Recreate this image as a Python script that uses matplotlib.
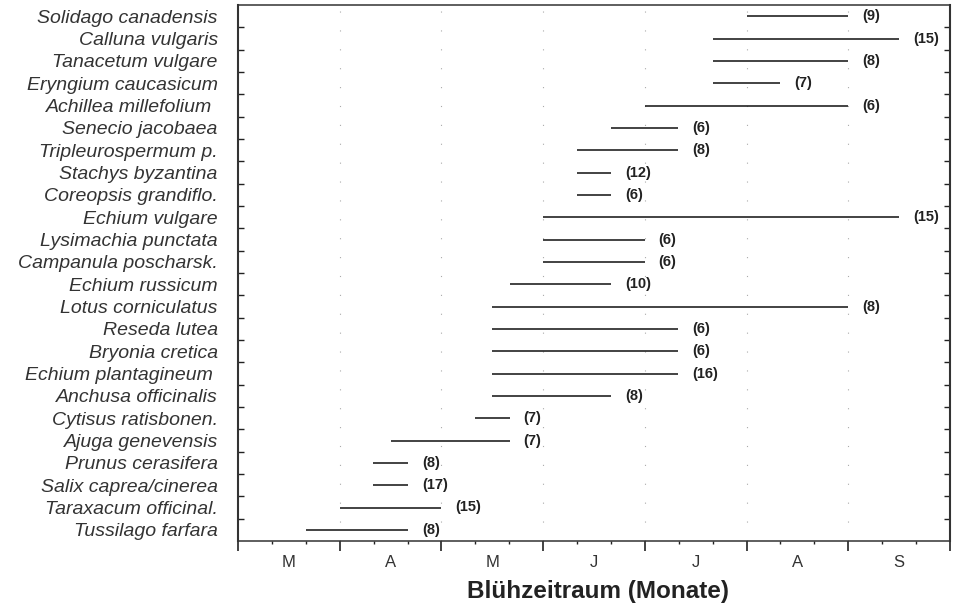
import numpy as np
import matplotlib
matplotlib.use("Agg")
import matplotlib.pyplot as plt
from matplotlib import font_manager

# species, flowering start/end in months (3 = 1st March), number of records
species = ["Solidago canadensis", "Calluna vulgaris", "Tanacetum vulgare",
           "Eryngium caucasicum", "Achillea millefolium ", "Senecio jacobaea",
           "Tripleurospermum p.", "Stachys byzantina", "Coreopsis grandiflo.",
           "Echium vulgare", "Lysimachia punctata", "Campanula poscharsk.",
           "Echium russicum", "Lotus corniculatus", "Reseda lutea",
           "Bryonia cretica", "Echium plantagineum ", "Anchusa officinalis",
           "Cytisus ratisbonen.", "Ajuga genevensis", "Prunus cerasifera",
           "Salix caprea/cinerea", "Taraxacum officinal.", "Tussilago farfara"]
start = [8.0, 7.67, 7.67, 7.67, 7.0, 6.67, 6.33, 6.33, 6.33, 6.0, 6.0, 6.0,
         5.67, 5.5, 5.5, 5.5, 5.5, 5.5, 5.33, 4.5, 4.33, 4.33, 4.0, 3.67]
end = [9.0, 9.5, 9.0, 8.33, 9.0, 7.33, 7.33, 6.67, 6.67, 9.5, 7.0, 7.0,
       6.67, 9.0, 7.33, 7.33, 7.33, 6.67, 5.67, 5.67, 4.67, 4.67, 5.0, 4.67]
counts = [9, 15, 8, 7, 6, 6, 8, 12, 6, 15, 6, 6, 10, 8, 6, 6, 16, 8, 7, 7,
          8, 17, 15, 8]

months = ["M", "A", "M", "J", "J", "A", "S"]
month_edges = np.arange(3, 11)

names = {f.name for f in font_manager.fontManager.ttflist}
count_font = "Liberation Sans Narrow" if "Liberation Sans Narrow" in names else "Liberation Sans"

plt.rcParams['font.family'] = ['Liberation Sans', 'DejaVu Sans']

fig = plt.figure(figsize=(9.56, 6.04), dpi=100)
ax = fig.add_axes([238 / 956, 1 - 541 / 604, 712 / 956, 536 / 604])

ink = '#222222'
rows = np.arange(len(species))

# faint dotted month grid
for m in month_edges[1:-1]:
    ax.axvline(m, color='#aaaaaa', lw=0.8, linestyle=(0, (1, 16)), zorder=0)

# flowering periods
ax.hlines(rows, start, end, color=ink, lw=1.2)

# number of records
for r, e, c in zip(rows, end, counts):
    ax.annotate(f"({c})", (e, r), xytext=(10, 0), textcoords='offset points',
                ha='left', va='center', fontsize=10.5, family=count_font,
                fontweight='bold', color=ink)

ax.set_xlim(3, 10)
ax.set_ylim(len(species) - 0.5, -0.5)

# y axis: names at rows, small inward ticks between rows
ax.set_yticks(rows, labels=species)
ax.set_yticks(rows[:-1] + 0.5, minor=True)
ax.tick_params(axis='y', which='major', length=0, pad=14.5, labelsize=14,
               labelcolor='#333333')
ax.tick_params(axis='y', which='minor', direction='in', length=4.5, width=1.0,
               left=True, right=True, color=ink)
for lbl in ax.get_yticklabels():
    lbl.set_style('italic')

# x axis: month boundaries + thirds of month
ax.set_xticks(month_edges, labels=[])
ax.set_xticks([m + k / 3 for m in month_edges[:-1] for k in (1, 2)], minor=True)
ax.tick_params(axis='x', which='major', direction='out', length=7, width=1.2, color=ink)
ax.tick_params(axis='x', which='minor', direction='out', length=2.5, width=1.0, color=ink)

for i, name in enumerate(months):
    ax.text(month_edges[i] + 0.5, -0.041, name, transform=ax.get_xaxis_transform(),
            ha='center', va='center', fontsize=12, color='#333333')

ax.text(0.505, -0.095, "Blühzeitraum (Monate)", transform=ax.transAxes,
        ha='center', va='center', fontsize=17.5, fontweight='bold', color='#222222')

for side in ['left', 'right']:
    ax.spines[side].set_linewidth(1.5)
for side in ['top', 'bottom']:
    ax.spines[side].set_linewidth(1.1)
for sp in ax.spines.values():
    sp.set_color('#333333')

fig.savefig("out.png", dpi=100, facecolor='white')
